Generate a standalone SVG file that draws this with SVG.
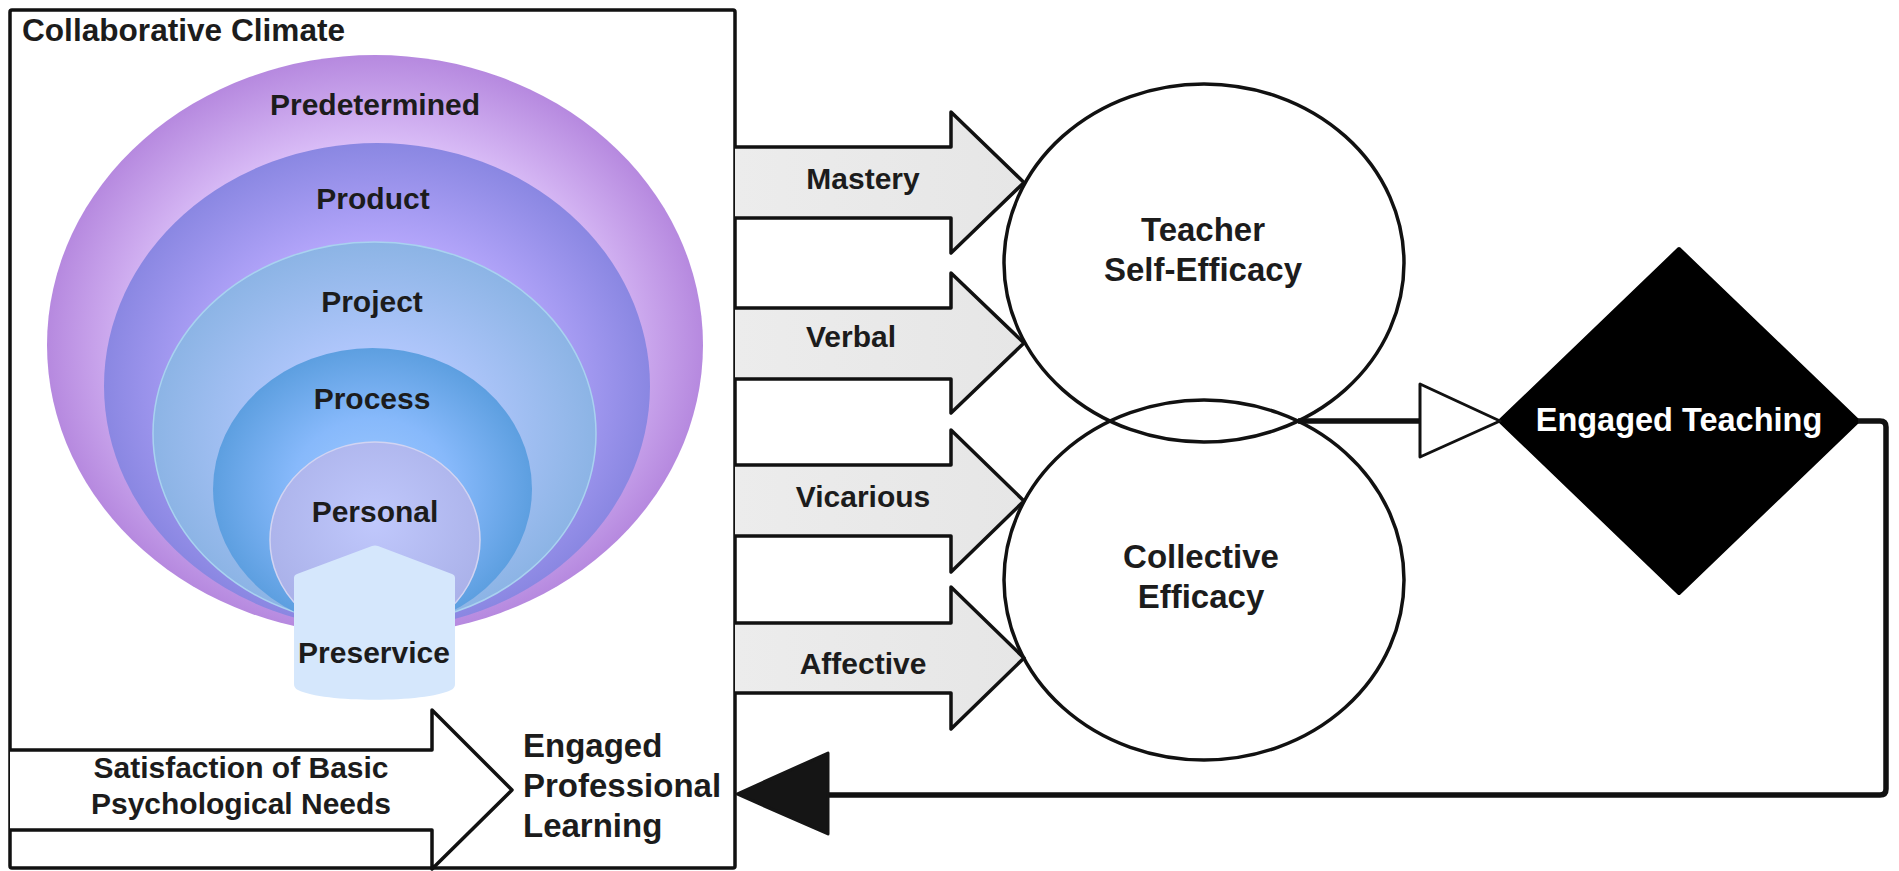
<svg xmlns="http://www.w3.org/2000/svg" width="1899" height="871" viewBox="0 0 1899 871">
<style>
text{font-family:"Liberation Sans",Arial,Helvetica,sans-serif;font-weight:bold;fill:#1c1c1c}
.m{text-anchor:middle}
.s30{font-size:30px}
.s33{font-size:33px}
.blk{fill:url(#gArrow);stroke:#111;stroke-width:3.5;stroke-linejoin:round}
.ell{fill:none;stroke:#111;stroke-width:3.5}
.con{fill:none;stroke:#111;stroke-width:5.5;stroke-linejoin:round}
</style>
<defs>
<radialGradient id="gPre" cx="50%" cy="50%" r="50%">
<stop offset="0" stop-color="#e6d0fc"/><stop offset="0.68" stop-color="#dbbff8"/><stop offset="1" stop-color="#b689df"/>
</radialGradient>
<radialGradient id="gProd" cx="50%" cy="50%" r="50%">
<stop offset="0" stop-color="#c2b2ff"/><stop offset="0.6" stop-color="#b3a5fa"/><stop offset="1" stop-color="#8a87e2"/>
</radialGradient>
<radialGradient id="gProj" cx="50%" cy="50%" r="50%">
<stop offset="0" stop-color="#bdd0ff"/><stop offset="0.45" stop-color="#afc6fb"/><stop offset="1" stop-color="#8cb4e5"/>
</radialGradient>
<radialGradient id="gProc" cx="50%" cy="50%" r="50%">
<stop offset="0" stop-color="#9ec9ff"/><stop offset="0.5" stop-color="#87b9fb"/><stop offset="1" stop-color="#5d9fe0"/>
</radialGradient>
<radialGradient id="gPers" cx="50%" cy="40%" r="60%">
<stop offset="0" stop-color="#c0c8fc"/><stop offset="1" stop-color="#a9b0e8"/>
</radialGradient>
<linearGradient id="gArrow" x1="0" y1="0" x2="1" y2="0">
<stop offset="0" stop-color="#ececec"/><stop offset="1" stop-color="#e6e6e6"/>
</linearGradient>
</defs>

<g id="collaborative-climate">
<rect x="10" y="10" width="725" height="858" rx="2" fill="#fff" stroke="#111" stroke-width="3.5"/>
<text x="22" y="41" style="font-size:31.6px">Collaborative Climate</text>
</g>

<g id="predetermined">
<ellipse cx="375" cy="345" rx="328" ry="290" fill="url(#gPre)"/>
<text class="m s30" x="375" y="115">Predetermined</text>
</g>
<g id="product">
<ellipse cx="377" cy="386" rx="273" ry="243" fill="url(#gProd)"/>
<text class="m s30" x="373" y="209">Product</text>
</g>
<g id="project">
<ellipse cx="374.5" cy="433.5" rx="221.5" ry="191.5" fill="url(#gProj)" stroke="#a9d2f0" stroke-width="1.5"/>
<text class="m s30" x="372" y="312">Project</text>
</g>
<g id="process">
<ellipse cx="372.5" cy="489" rx="159.5" ry="141" fill="url(#gProc)"/>
<text class="m s30" x="372" y="409">Process</text>
</g>
<g id="personal">
<ellipse cx="375" cy="540" rx="105" ry="98" fill="url(#gPers)" stroke="#d2d4f2" stroke-width="1.5"/>
<text class="m s30" x="375" y="522">Personal</text>
</g>
<g id="preservice">
<path d="M294,578 Q294,575 297,574 L372,546 Q375,545 378,546 L452,574 Q455,575 455,578 L455,684 Q455,688 451,690 C425,703 324,703 298,690 Q294,688 294,684 Z" fill="#d5e7fc"/>
<text class="m s30" x="374" y="663">Preservice</text>
</g>

<g id="basic-needs">
<path d="M10,750 L432,750 L432,710 L512,790 L432,869 L432,830 L10,830" fill="#fff" stroke="#111" stroke-width="3.5" stroke-linejoin="round"/>
<text class="m s30" x="241" y="778">Satisfaction of Basic</text>
<text class="m s30" x="241" y="814">Psychological Needs</text>
</g>

<g id="engaged-professional-learning">
<text class="s33" x="523" y="757">Engaged</text>
<text class="s33" x="523" y="797">Professional</text>
<text class="s33" x="523" y="837">Learning</text>
</g>

<g id="mastery">
<path class="blk" d="M735,147 L951,147 L951,112 L1024,182.5 L951,253 L951,218 L735,218"/>
<text class="m s30" x="863" y="189">Mastery</text>
</g>
<g id="verbal">
<path class="blk" d="M735,308 L951,308 L951,273 L1024,343 L951,413 L951,379 L735,379"/>
<text class="m s30" x="851" y="347">Verbal</text>
</g>
<g id="vicarious">
<path class="blk" d="M735,465 L951,465 L951,430 L1024,501 L951,572 L951,536 L735,536"/>
<text class="m s30" x="863" y="507">Vicarious</text>
</g>
<g id="affective">
<path class="blk" d="M735,623 L951,623 L951,587 L1024,658 L951,729 L951,693 L735,693"/>
<text class="m s30" x="863" y="674">Affective</text>
</g>

<g id="teacher-self-efficacy">
<ellipse class="ell" cx="1204" cy="263" rx="200" ry="179"/>
<text class="m s33" x="1203" y="241">Teacher</text>
<text class="m s33" x="1203" y="281">Self-Efficacy</text>
</g>
<g id="collective-efficacy">
<ellipse class="ell" cx="1204" cy="580" rx="200" ry="180"/>
<text class="m s33" x="1201" y="568">Collective</text>
<text class="m s33" x="1201" y="608">Efficacy</text>
</g>

<g id="engaged-teaching">
<path d="M1679,249 L1858,421 L1679,593 L1500,421 Z" fill="#000" stroke="#000" stroke-width="4" stroke-linejoin="round"/>
<text class="m" x="1679" y="431" style="font-size:32.5px;fill:#fff">Engaged Teaching</text>
</g>

<g id="connectors">
<path class="con" d="M1298,421 H1420"/>
<path d="M1420,384 L1500,421 L1420,457 Z" fill="#fff" stroke="#111" stroke-width="3" stroke-linejoin="round"/>
<path class="con" d="M1858,421 H1880 Q1886,421 1886,427 V789 Q1886,795 1880,795 H826"/>
<path d="M828,753 L828,834 L737,794 Z" fill="#151515" stroke="#151515" stroke-width="3" stroke-linejoin="round"/>
</g>
</svg>
